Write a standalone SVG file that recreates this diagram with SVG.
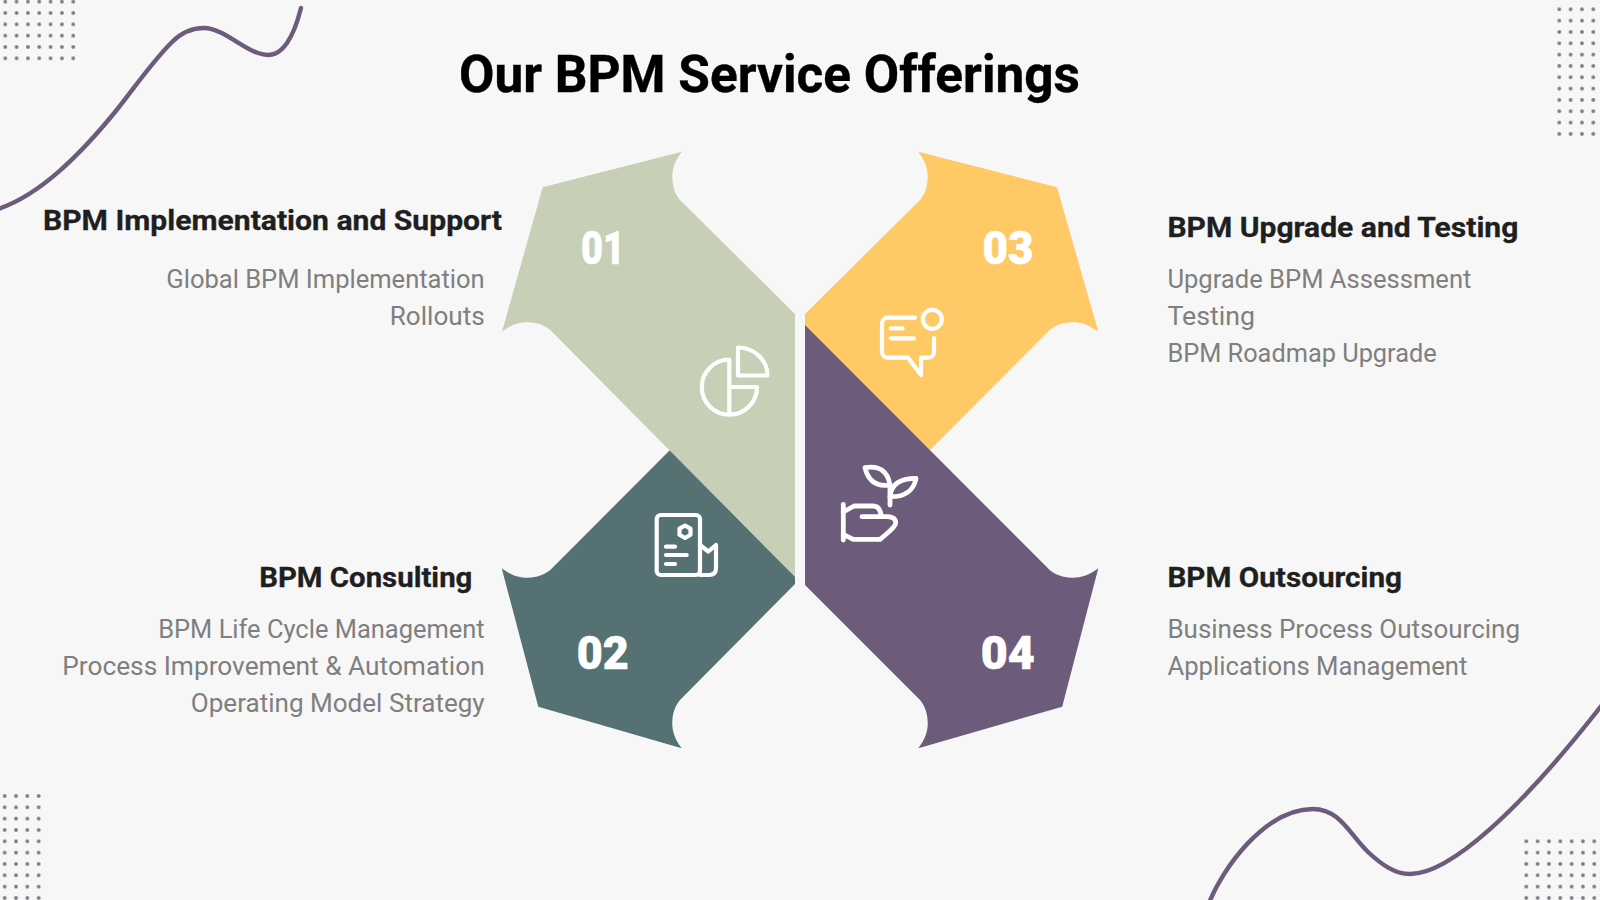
<svg xmlns="http://www.w3.org/2000/svg" width="1600" height="900" viewBox="0 0 1600 900">
<style>
text{font-family:"Roboto","Liberation Sans",sans-serif}
.title{font-size:52px;font-weight:700;fill:#000;stroke:#000;stroke-width:.4}
.head{font-size:28px;font-weight:700;fill:#1f1f1f;stroke:#1f1f1f;stroke-width:.3}
.body{font-size:25px;font-weight:400;fill:#7f7f7f}
.num{font-size:46px;font-weight:900;fill:#fff;stroke:#fff;stroke-width:.6}
.ic{fill:none;stroke:#fff;stroke-width:4.2;stroke-linecap:round;stroke-linejoin:round}
.thick{stroke-width:4.8}
.wave{fill:none;stroke:#6c5b7b;stroke-width:4.4;stroke-linecap:round}
</style>
<defs>
<pattern id="d1" patternUnits="userSpaceOnUse" x="-0.4" y="-4" width="11.33" height="11.33"><circle cx="5.67" cy="5.67" r="1.9" fill="#7d7a82"/></pattern>
<pattern id="d2" patternUnits="userSpaceOnUse" x="1553.63" y="3.63" width="11.33" height="11.33"><circle cx="5.67" cy="5.67" r="1.9" fill="#7d7a82"/></pattern>
<pattern id="d3" patternUnits="userSpaceOnUse" x="-1" y="790.33" width="11.33" height="11.33"><circle cx="5.67" cy="5.67" r="1.9" fill="#7d7a82"/></pattern>
<pattern id="d4" patternUnits="userSpaceOnUse" x="1520.63" y="835.63" width="11.33" height="11.33"><circle cx="5.67" cy="5.67" r="1.9" fill="#7d7a82"/></pattern>
</defs>
<rect width="1600" height="900" fill="#f7f7f7"/>
<g id="decor">
<rect x="0" y="0" width="79" height="63" fill="url(#d1)"/>
<rect x="1553.6" y="3.6" width="45.4" height="136" fill="url(#d2)"/>
<rect x="0" y="790.3" width="44" height="109.7" fill="url(#d3)"/>
<rect x="1520.6" y="835.6" width="79.4" height="64.4" fill="url(#d4)"/>
<path class="wave" d="M-2 209 C40 195 80 155 116.7 110 C135 87 152 62 172 42 C183 31 193 28 204 28 C222 28 242 48 258 53 C272 58 280 53 287 43 C294 33 298 20 301 8"/>
<path class="wave" d="M1209 903 C1222 870 1264 809 1313 809 C1340 809 1350 835 1368 852 C1382 865 1395 874 1410 874 C1450 874 1520 810 1602 705"/>
</g>
<text id="title" class="title" x="459" y="92" textLength="621" lengthAdjust="spacingAndGlyphs">Our BPM Service Offerings</text>
<g id="node-02">
<path fill="#557174" d="M670 450 L795 575 V584 L680 700 C675 706 672.6 713 672.3 722 C672 730 674 738 681.7 748.3 L538.3 706.7 L501.7 568.3 C512 576 520 578 528.3 577.7 C537 577.4 544 575 550.3 570 Z"/>
<text class="num" x="576.7" y="669.3" textLength="52" lengthAdjust="spacingAndGlyphs">02</text>
<g class="ic"><rect x="656.7" y="515" width="43.3" height="60" rx="4"/><path d="M685 525.5 L690.5 528.6 V534.8 L685 538 L679.5 534.8 V528.6 Z"/><path d="M666 546.7 H675 M666 555 H686.7 M666 564 H675"/><path d="M700 545 L708.3 551.5 L716 545 V568 Q716 575 709 575 H700"/></g>
</g>
<g id="node-01">
<path fill="#c7cfb7" d="M681.7 151.7 C674 162 672 170 672.3 178 C672.6 187 675 194 680 200 L795 314 V577 L550.3 330 C544.3 325 537.3 322.6 528.3 322.3 C520.3 322 512.3 324 502 331.7 L542.7 187.3 Z"/>
<text class="num" x="581" y="264" textLength="44" lengthAdjust="spacingAndGlyphs">01</text>
<g class="ic"><path d="M738 347.5 A29.5 28 0 0 1 767.5 375.5 H738 Z"/><path d="M729.3 359.5 A27.6 27.6 0 1 0 757 387 H729.3 M729.3 359.5 V414.5"/></g>
</g>
<g id="node-03">
<path fill="#ffc966" d="M918.3 151.7 C926 162 928 170 927.7 178 C927.4 187 925 194 920 200 L805 314 V330 L930 450 L1049.7 330 C1055.7 325 1062.7 322.6 1071.7 322.3 C1079.7 322 1087.7 324 1098.3 331.7 L1057 187.3 Z"/>
<text class="num" x="982.5" y="264" textLength="51" lengthAdjust="spacingAndGlyphs">03</text>
<g class="ic"><circle cx="932.3" cy="319.3" r="9.5"/><path d="M915 317.7 H888 A6 6 0 0 0 882 323.7 V351.7 A6 6 0 0 0 888 357.7 H908 L921 375 V357.7 H928 A6 6 0 0 0 934 351.7 V338"/><path d="M890.7 328.3 H902.7 M890.7 338.3 H914"/></g>
</g>
<g id="node-04">
<path fill="#6c5b7b" d="M805 325 L1049.7 570 C1055.7 575 1062.7 577.4 1071.7 577.7 C1079.7 578 1088 576 1098.3 568.3 L1062.2 706.7 L918.3 748.3 C926 738 928 730 927.7 722 C927.4 713 925 706 920 700 L805 585 Z"/>
<text class="num" x="980.7" y="669.3" textLength="54" lengthAdjust="spacingAndGlyphs">04</text>
<g class="ic thick"><path d="M890 505 V485"/><path d="M865 467.7 C880 465 888 472 890 485 C876 487 868 480 865 467.7 Z"/><path d="M890 496.7 C891 484 900 478.3 916 478.3 C914 490 905 497 890 496.7 Z"/><path d="M843.3 504.3 V540"/><path d="M843.3 512 L854 506 H873.3 Q878 506 880 511 L881.7 516.7 H862 M881.7 516.7 H888.3 Q898 518 895 525 Q893 529 880 539.3 H853.3 L843.3 534.3"/></g>
</g>
<g id="label-01">
<text class="head" x="43" y="230" textLength="459" lengthAdjust="spacingAndGlyphs">BPM Implementation and Support</text>
<text class="body" x="166.3" y="288" textLength="318.4" lengthAdjust="spacingAndGlyphs">Global BPM Implementation</text>
<text class="body" x="389.8" y="324.7" textLength="94.9" lengthAdjust="spacingAndGlyphs">Rollouts</text>
</g>
<g id="label-02">
<text class="head" x="259.2" y="587" textLength="213.2" lengthAdjust="spacingAndGlyphs">BPM Consulting</text>
<text class="body" x="158.2" y="638" textLength="326.5" lengthAdjust="spacingAndGlyphs">BPM Life Cycle Management</text>
<text class="body" x="62.2" y="674.7" textLength="422.5" lengthAdjust="spacingAndGlyphs">Process Improvement &amp; Automation</text>
<text class="body" x="190.8" y="712" textLength="293.9" lengthAdjust="spacingAndGlyphs">Operating Model Strategy</text>
</g>
<g id="label-03">
<text class="head" x="1167.4" y="237" textLength="351" lengthAdjust="spacingAndGlyphs">BPM Upgrade and Testing</text>
<text class="body" x="1167.4" y="288" textLength="304" lengthAdjust="spacingAndGlyphs">Upgrade BPM Assessment</text>
<text class="body" x="1167.4" y="324.7" textLength="87.6" lengthAdjust="spacingAndGlyphs">Testing</text>
<text class="body" x="1167.4" y="362" textLength="269.3" lengthAdjust="spacingAndGlyphs">BPM Roadmap Upgrade</text>
</g>
<g id="label-04">
<text class="head" x="1167.4" y="587" textLength="234.6" lengthAdjust="spacingAndGlyphs">BPM Outsourcing</text>
<text class="body" x="1167.4" y="638" textLength="352.6" lengthAdjust="spacingAndGlyphs">Business Process Outsourcing</text>
<text class="body" x="1167.4" y="674.7" textLength="300" lengthAdjust="spacingAndGlyphs">Applications Management</text>
</g>
</svg>
